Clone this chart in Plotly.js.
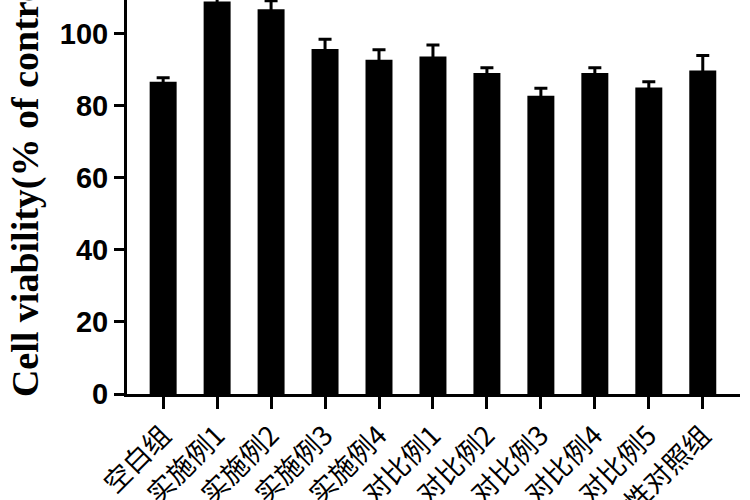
<!DOCTYPE html>
<html>
<head>
<meta charset="utf-8">
<script src="https://cdn.plot.ly/plotly-3.0.1.min.js"></script>
<style>html,body{margin:0;padding:0;background:#fff;}#chart{width:750px;height:500px;}</style>
</head>
<body>
<div id="chart"></div>
<script>
const categories = ["空白组","实施例1","实施例2","实施例3","实施例4","对比例1","对比例2","对比例3","对比例4","对比例5","阳性对照组"];
const viability = [86.7, 109.0, 106.8, 95.8, 92.8, 93.7, 89.1, 82.8, 89.1, 85.1, 89.8];
const errors = [1.1, 1.0, 2.4, 2.7, 2.8, 3.2, 1.5, 2.1, 1.5, 1.6, 4.2];
const yTicks = [0, 20, 40, 60, 80, 100];
const yTitle = "Cell viability(% of control)";

const trace = {
  type: "bar",
  x: categories,
  y: viability,
  marker: {color: "#000000", line: {width: 0}},
  error_y: {type: "data", array: errors, visible: true, color: "#000000", thickness: 3, width: 6.5},
  hoverinfo: "none"
};

const layout = {
  width: 750,
  height: 500,
  margin: {l: 127, r: 10, t: 0, b: 106, pad: 0},
  paper_bgcolor: "#ffffff",
  plot_bgcolor: "#ffffff",
  showlegend: false,
  bargap: 0.5,
  xaxis: {
    type: "category",
    range: [-0.67, 10.69],
    showgrid: false,
    zeroline: false,
    showline: true,
    linecolor: "#000000",
    linewidth: 3,
    ticks: "outside",
    ticklen: 12,
    tickwidth: 3,
    tickcolor: "#000000",
    tickangle: -45,
    tickfont: {family: "Noto Sans CJK SC", size: 27, color: "#000000"}
  },
  yaxis: {
    range: [0, 109.4],
    tickvals: yTicks,
    ticktext: yTicks.map(String),
    showgrid: false,
    zeroline: false,
    showline: true,
    linecolor: "#000000",
    linewidth: 3,
    ticks: "outside",
    ticklen: 10,
    tickwidth: 3,
    tickcolor: "#000000",
    tickfont: {family: "Liberation Sans, Arial", size: 29, color: "#000000", weight: "bold"}
  },
  annotations: [{
    text: "<b>" + yTitle + "</b>",
    xref: "paper", yref: "paper",
    x: -0.1664, y: 0.548,
    xanchor: "center", yanchor: "middle",
    textangle: -90,
    showarrow: false,
    font: {family: "Liberation Serif, Times New Roman", size: 38, color: "#000000"}
  }]
};

Plotly.newPlot("chart", [trace], layout, {staticPlot: true, displayModeBar: false});
</script>
</body>
</html>
